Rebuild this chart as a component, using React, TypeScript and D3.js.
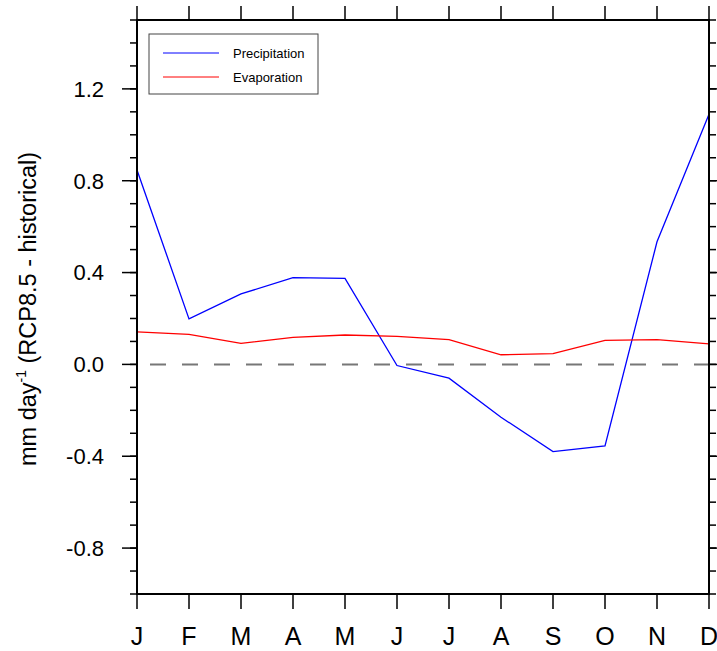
import React from "react";
import * as d3 from "d3";

const width = 717;
const height = 651;
const margin = { top: 20, right: 8, bottom: 57, left: 137 };

const months = ["J", "F", "M", "A", "M", "J", "J", "A", "S", "O", "N", "D"];
const precipitation = [0.847, 0.198, 0.307, 0.378, 0.375, -0.005, -0.06, -0.23, -0.38, -0.355, 0.534, 1.09];
const evaporation = [0.142, 0.131, 0.092, 0.118, 0.128, 0.122, 0.108, 0.042, 0.047, 0.105, 0.108, 0.089];
const yMajor = [-0.8, -0.4, 0, 0.4, 0.8, 1.2];
const yDomain = [-1.0, 1.5];

const series = [
  { name: "Precipitation", values: precipitation, color: "#0000ff" },
  { name: "Evaporation", values: evaporation, color: "#ff0000" },
];

const font = "'Liberation Sans', Arial, Helvetica, sans-serif";

export default function App() {
  const x = d3
    .scaleLinear()
    .domain([0, months.length - 1])
    .range([margin.left, width - margin.right]);
  const y = d3
    .scaleLinear()
    .domain(yDomain)
    .range([height - margin.bottom, margin.top]);

  const line = d3
    .line<number>()
    .x((d, i) => x(i))
    .y((d) => y(d));

  const [x0, x1] = x.range();
  const [yb, yt] = y.range();
  const minor = y.ticks(25);

  return (
    <svg
      width={width}
      height={height}
      style={{ position: "absolute", left: 0, top: 0, background: "#fff" }}
      fontFamily={font}
    >
      {/* zero reference */}
      <line
        x1={x0}
        x2={x1}
        y1={y(0)}
        y2={y(0)}
        stroke="#777"
        strokeWidth={2}
        strokeDasharray="16 16"
        strokeDashoffset={19}
      />

      {series.map((s) => (
        <path key={s.name} d={line(s.values) || ""} fill="none" stroke={s.color} strokeWidth={1.3} />
      ))}

      {/* y ticks, left outward and right outward */}
      <g stroke="#000" strokeWidth={1.5}>
        {minor.map((t) => (
          <g key={"m" + t}>
            <line x1={x0 - 7} x2={x0} y1={y(t)} y2={y(t)} />
            <line x1={x1} x2={x1 + 7} y1={y(t)} y2={y(t)} />
          </g>
        ))}
        {yMajor.map((t) => (
          <g key={"M" + t}>
            <line x1={x0 - 15} x2={x0} y1={y(t)} y2={y(t)} />
            <line x1={x1} x2={x1 + 15} y1={y(t)} y2={y(t)} />
          </g>
        ))}
        {months.map((m, i) => (
          <g key={"x" + i}>
            <line x1={x(i)} x2={x(i)} y1={yb} y2={yb + 15} />
            <line x1={x(i)} x2={x(i)} y1={yt - 14} y2={yt} />
          </g>
        ))}
      </g>

      <rect x={x0} y={yt} width={x1 - x0} height={yb - yt} fill="none" stroke="#000" strokeWidth={2} />

      {yMajor.map((t) => (
        <text key={"l" + t} x={104} y={y(t)} dy="0.36em" textAnchor="end" fontSize={22}>
          {t.toFixed(1)}
        </text>
      ))}

      {months.map((m, i) => (
        <text key={"t" + i} x={x(i)} y={645} textAnchor="middle" fontSize={25}>
          {m}
        </text>
      ))}

      <text
        transform={`translate(36,309) rotate(-90)`}
        textAnchor="middle"
        fontSize={23.5}
      >
        mm day
        <tspan fontSize={14} dy={-10}>-1</tspan>
        <tspan dy={10}> (RCP8.5 - historical)</tspan>
      </text>

      {/* legend */}
      <g>
        <rect x={149} y={34} width={169} height={60} fill="#fff" stroke="#444" strokeWidth={1} />
        {series.map((s, i) => (
          <g key={"lg" + s.name}>
            <line x1={163} x2={219} y1={53 + i * 24} y2={53 + i * 24} stroke={s.color} strokeWidth={1} />
            <text x={233} y={53 + i * 24} dy="0.35em" fontSize={13}>
              {s.name}
            </text>
          </g>
        ))}
      </g>
    </svg>
  );
}
